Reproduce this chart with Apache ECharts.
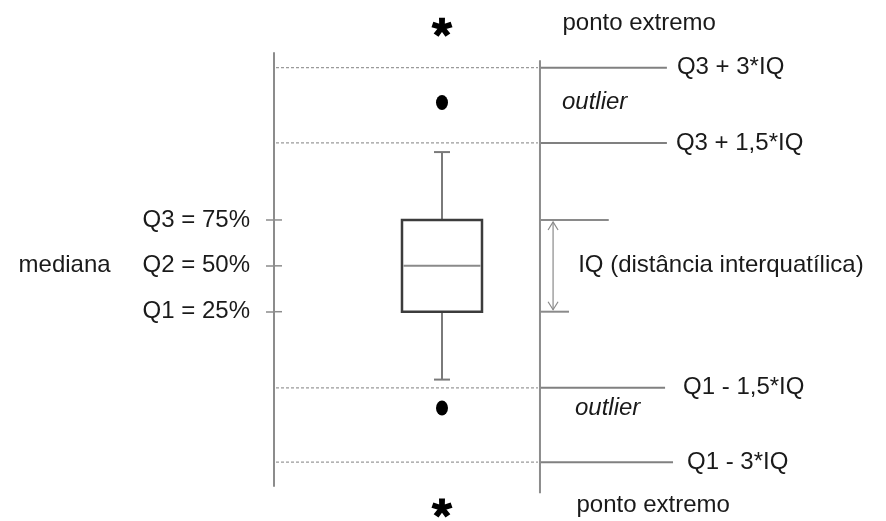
<!DOCTYPE html>
<html><head><meta charset="utf-8">
<script src="https://cdn.jsdelivr.net/npm/echarts@6/dist/echarts.min.js"></script>
<style>html,body{margin:0;padding:0;background:#fff}#c{width:886px;height:521px}</style>
</head><body><div id="c"></div>
<script>
// ---------- data (schematic units) ----------
const quartileNames = ['Q1 = 25%', 'Q2 = 50%', 'Q3 = 75%'];
const quartileValues = [25, 50, 75];
const medianName = 'mediana';
const whiskerValues = [-12, 112];
const fenceNames = ['Q3 + 3*IQ', 'Q3 + 1,5*IQ', 'Q1 - 1,5*IQ', 'Q1 - 3*IQ'];
const fenceValues = [158, 117, -16.5, -57];
const outlierValues = [139, -27.5];
const outlierName = 'outlier';
const extremeValues = [180, -82];
const extremeName = 'ponto extremo';
const iqName = 'IQ (distância interquatílica)';
const axisRange = [-70, 166];
const rightLineRange = [-74, 162];

// ---------- layout / style constants ----------
const FONT_FAMILY = '"Liberation Sans", Arial, Helvetica, sans-serif';
const FONT_SIZE = 24;
const TEXT_COLOR = '#1a1a1a';
const BOX_X = 27.45;
const RIGHT_X = 43.46;
const FENCE_END = [64.2, 64.2, 63.9, 65.2];
const FENCE_GAP = [10, 9, 18, 14];
const IQ_TOP_END = 54.7, IQ_BOT_END = 48.2, ARROW_X = 45.6, IQ_TEXT_X = 49.7;

function asteriskPath() {
  const arms = [-90, -18, 54, 126, 198];
  const r = 50, w = 27;
  let d = '';
  arms.forEach(a => {
    const t = a * Math.PI / 180;
    const ux = Math.cos(t), uy = Math.sin(t);
    const px = -uy * w / 2, py = ux * w / 2;
    const cx = 50 - ux * 6, cy = 50 - uy * 6;
    const tx = 50 + ux * r, ty = 50 + uy * r;
    const pts = [[cx + px, cy + py], [tx + px * 1.1, ty + py * 1.1], [tx - px * 1.1, ty - py * 1.1], [cx - px, cy - py]];
    d += 'M' + pts.map(p => p[0].toFixed(2) + ' ' + p[1].toFixed(2)).join(' L') + ' Z ';
  });
  return 'path://' + d;
}

const chart = echarts.init(document.getElementById('c'), null, { renderer: 'canvas' });

const labelBase = { fontSize: FONT_SIZE, fontFamily: FONT_FAMILY, color: TEXT_COLOR, textBorderWidth: 0, opacity: 1 };

const option = {
  animation: false,
  backgroundColor: '#fff',
  grid: { left: 274, right: 0, top: 53, bottom: 35, outerBoundsMode: 'none' },
  xAxis: { type: 'value', min: 0, max: 100, show: false },
  yAxis: {
    type: 'value', min: axisRange[0], max: axisRange[1], position: 'left',
    axisLine: { show: true, lineStyle: { color: '#8c8c8c', width: 2 } },
    axisTick: { show: true, customValues: quartileValues, length: 8, inside: false,
                lineStyle: { color: '#8c8c8c', width: 1.5 } },
    axisLabel: {
      show: true, customValues: quartileValues, margin: 24,
      fontSize: FONT_SIZE, fontFamily: FONT_FAMILY, color: TEXT_COLOR,
      formatter: v => {
        const i = quartileValues.indexOf(v);
        const t = quartileNames[i];
        return v === quartileValues[1] ? '{m|' + medianName + '}{v|' + t + '}' : t;
      },
      rich: {
        m: { fontSize: FONT_SIZE, fontFamily: FONT_FAMILY, color: TEXT_COLOR, padding: [0, 32, 0, 0] },
        v: { fontSize: FONT_SIZE, fontFamily: FONT_FAMILY, color: TEXT_COLOR }
      }
    },
    splitLine: { show: false }
  },
  series: [
    // inner half of the quartile ticks (ticks cross the axis)
    {
      type: 'custom', clip: false, silent: true,
      data: quartileValues.map(v => [0, v]),
      renderItem: (params, api) => {
        const p = api.coord([api.value(0), api.value(1)]);
        return { type: 'line', shape: { x1: p[0], y1: p[1], x2: p[0] + 8, y2: p[1] },
                 style: { stroke: '#8c8c8c', lineWidth: 1.5 } };
      }
    },
    // right vertical line
    {
      type: 'line', data: rightLineRange.map(v => [RIGHT_X, v]), symbol: 'none',
      lineStyle: { color: '#8c8c8c', width: 2 }, clip: false, silent: true
    },
    // fences: dashed line + solid line + label
    {
      type: 'custom', clip: false, silent: true,
      data: fenceValues.map((v, i) => [v, i]),
      renderItem: (params, api) => {
        const v = api.value(0), i = api.value(1);
        const a = api.coord([0, v]), b = api.coord([RIGHT_X, v]), c = api.coord([FENCE_END[i], v]);
        return {
          type: 'group', children: [
            { type: 'line', shape: { x1: a[0] + 2, y1: a[1], x2: b[0] - 2, y2: b[1] },
              style: { stroke: '#9a9a9a', lineWidth: 1.3, lineDash: [3, 2] } },
            { type: 'line', shape: { x1: b[0], y1: b[1], x2: c[0], y2: c[1] },
              style: { stroke: '#808080', lineWidth: 2 } },
            { type: 'text', x: c[0] + FENCE_GAP[i], y: c[1],
              style: { text: fenceNames[i], font: FONT_SIZE + 'px ' + FONT_FAMILY, fill: TEXT_COLOR,
                       align: 'left', verticalAlign: 'middle' } }
          ]
        };
      }
    },
    // box and whiskers
    {
      type: 'custom', clip: false, silent: true,
      data: [[BOX_X, whiskerValues[0], quartileValues[0], quartileValues[1], quartileValues[2], whiskerValues[1]]],
      renderItem: (params, api) => {
        const x = api.value(0);
        const lo = api.coord([x, api.value(1)]), q1 = api.coord([x, api.value(2)]),
              md = api.coord([x, api.value(3)]), q3 = api.coord([x, api.value(4)]),
              hi = api.coord([x, api.value(5)]);
        const cx = q1[0], hw = 40, cw = 8;
        const wStyle = { stroke: '#7a7a7a', lineWidth: 2 };
        return {
          type: 'group', children: [
            { type: 'line', shape: { x1: cx, y1: hi[1], x2: cx, y2: q3[1] }, style: wStyle },
            { type: 'line', shape: { x1: cx, y1: q1[1], x2: cx, y2: lo[1] }, style: wStyle },
            { type: 'line', shape: { x1: cx - cw, y1: hi[1], x2: cx + cw, y2: hi[1] }, style: wStyle },
            { type: 'line', shape: { x1: cx - cw, y1: lo[1], x2: cx + cw, y2: lo[1] }, style: wStyle },
            { type: 'rect', shape: { x: cx - hw, y: q3[1], width: 2 * hw, height: q1[1] - q3[1] },
              style: { fill: '#fff', stroke: '#3c3c3c', lineWidth: 2.5 } },
            { type: 'line', shape: { x1: cx - hw + 1.5, y1: md[1], x2: cx + hw - 1.5, y2: md[1] },
              style: { stroke: '#8a8a8a', lineWidth: 2 } }
          ]
        };
      }
    },
    // IQ bracket
    {
      type: 'custom', clip: false, silent: true,
      data: [[quartileValues[2], quartileValues[0], quartileValues[1]]],
      renderItem: (params, api) => {
        const top = api.coord([RIGHT_X, api.value(0)]), bot = api.coord([RIGHT_X, api.value(1)]);
        const tEnd = api.coord([IQ_TOP_END, api.value(0)]), bEnd = api.coord([IQ_BOT_END, api.value(1)]);
        const ax = api.coord([ARROW_X, api.value(0)])[0];
        const mid = api.coord([IQ_TEXT_X, api.value(2)]);
        const s = { stroke: '#8a8a8a', lineWidth: 2 };
        const sa = { stroke: '#8a8a8a', lineWidth: 1.2, fill: null };
        return {
          type: 'group', children: [
            { type: 'line', shape: { x1: top[0], y1: top[1], x2: tEnd[0], y2: tEnd[1] }, style: s },
            { type: 'line', shape: { x1: bot[0], y1: bot[1], x2: bEnd[0], y2: bEnd[1] }, style: s },
            { type: 'line', shape: { x1: ax, y1: top[1] + 2, x2: ax, y2: bot[1] - 2 }, style: sa },
            { type: 'polyline', shape: { points: [[ax - 5, top[1] + 10], [ax, top[1] + 2], [ax + 5, top[1] + 10]] }, style: sa },
            { type: 'polyline', shape: { points: [[ax - 5, bot[1] - 10], [ax, bot[1] - 2], [ax + 5, bot[1] - 10]] }, style: sa },
            { type: 'text', x: mid[0], y: mid[1],
              style: { text: iqName, font: FONT_SIZE + 'px ' + FONT_FAMILY, fill: TEXT_COLOR,
                       align: 'left', verticalAlign: 'middle' } }
          ]
        };
      }
    },
    // outliers
    {
      type: 'scatter', clip: false, silent: true,
      symbol: 'circle', symbolSize: [12, 15],
      itemStyle: { color: '#000', opacity: 1 },
      data: outlierValues.map((v, i) => ({
        value: [BOX_X, v],
        label: { distance: i === 0 ? 114 : 127, color: TEXT_COLOR }
      })),
      label: Object.assign({ show: true, position: 'right', formatter: outlierName, fontStyle: 'italic' }, labelBase)
    },
    // extreme points
    {
      type: 'scatter', clip: false, silent: true,
      symbol: asteriskPath(), symbolSize: [21, 19],
      itemStyle: { color: '#000', opacity: 1 },
      data: extremeValues.map((v, i) => ({
        value: [BOX_X, v],
        label: { distance: i === 0 ? 110 : 124, offset: [0, i === 0 ? -4 : -3], color: TEXT_COLOR }
      })),
      label: Object.assign({ show: true, position: 'right', formatter: extremeName }, labelBase)
    }
  ]
};
chart.setOption(option);
</script>
</body></html>
